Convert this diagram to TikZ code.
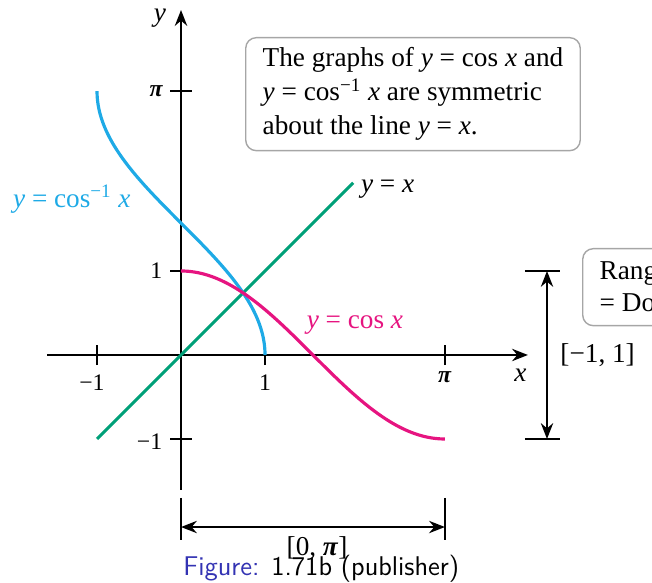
\documentclass[tikz,border=0pt]{standalone}
\usepackage{fontspec}
\setmainfont{Liberation Serif}
\usetikzlibrary{arrows.meta}
\definecolor{invcos}{RGB}{30,170,230}
\definecolor{cospink}{RGB}{230,20,128}
\definecolor{idgreen}{RGB}{0,160,120}
\definecolor{capblue}{RGB}{51,51,179}
\newcommand{\mv}[1]{\textit{#1}}
\newcommand{\mpi}{\textbf{\textit{π}}}
\begin{document}
\begin{tikzpicture}[x=1.68cm, y=1.68cm, >={Stealth[length=9pt,width=7pt]},
  axis/.style={line width=1.3pt},
  graph/.style={line width=1.8pt},
  dim/.style={line width=1.1pt},
  note/.style={draw=gray!70, rounded corners=6pt, line width=0.8pt, align=left,
               font=\fontsize{15.5}{19.4}\selectfont, inner xsep=0.34cm},
  ticklab/.style={font=\fontsize{13.5}{15}\selectfont, inner sep=0pt},
  curvelab/.style={font=\fontsize{15.5}{18}\selectfont, anchor=base}]
  \clip (-2.155,-2.714) rectangle (5.607,4.226);

  \coordinate (xleft) at (-1.595,0);
  \coordinate (xright) at (4.13,0);
  \coordinate (ybottom) at (0,-1.607);
  \coordinate (ytop) at (0,4.107);
  \draw[axis,->] (xleft) -- (xright);
  \draw[axis,->] (ybottom) -- (ytop);

  \foreach \t in {-1,1,pi}
    \draw[axis] (\t,-0.12) -- (\t,0.12);
  \foreach \t in {-1,1,pi}
    \draw[axis] (-0.13,\t) -- (0.13,\t);

  \node (xlab) [font=\fontsize{15.5}{18}\selectfont, anchor=base] at (4.04,-0.32) {\mv{x}};
  \node (ylab) [font=\fontsize{15.5}{18}\selectfont] at (-0.25,4.01) {\mv{y}};
  \node (xm1) [ticklab, anchor=base] at (-1.06,-0.42) {−1};
  \node (xp1) [ticklab, anchor=base] at (1,-0.42) {1};
  \node (xpi) [ticklab, anchor=base] at (pi,-0.33) {\mpi};
  \node (ypi) [ticklab, anchor=east] at (-0.21,pi) {\mpi};
  \node (yp1) [ticklab, anchor=east] at (-0.22,1) {1};
  \node (ym1) [ticklab, anchor=east] at (-0.22,-1.03) {−1};

  \draw[graph, idgreen] (-1,-1) -- (2.05,2.05);
  \draw[graph, invcos, domain=0:pi, samples=120, smooth] plot ({cos(\x r)}, {\x});
  \draw[graph, cospink, domain=0:pi, samples=120, smooth] plot (\x, {cos(\x r)});

  \node (invlab) [curvelab, invcos] at (-1.30,1.76) {\mv{y} = cos\textsuperscript{−1} \mv{x}};
  \node (idlab) [curvelab] at (2.46,1.93) {\mv{y} = \mv{x}};
  \node (coslab) [curvelab, cospink] at (2.07,0.32) {\mv{y} = cos \mv{x}};

  \node (symnote) [note, anchor=north west, minimum height=2.26cm] at (0.762,3.786)
        {The graphs of \mv{y} = cos \mv{x} and\\
         \mv{y} = cos\textsuperscript{−1} \mv{x} are symmetric\\
         about the line \mv{y} = \mv{x}.};
  \node (rangenote) [note, anchor=north west, minimum height=1.54cm, font=\fontsize{15.5}{18.2}\selectfont] at (4.774,1.274)
        {Range\\= Domain};

  \coordinate (rtop1) at (4.095,1);
  \coordinate (rtop2) at (4.512,1);
  \coordinate (rbot1) at (4.095,-1);
  \coordinate (rbot2) at (4.512,-1);
  \coordinate (rarrowt) at (4.357,1);
  \coordinate (rarrowb) at (4.357,-1);
  \draw[dim] (rtop1) -- (rtop2);
  \draw[dim] (rbot1) -- (rbot2);
  \draw[dim,<->] (rarrowt) -- (rarrowb);
  \node (rangelab) [font=\fontsize{15.5}{18}\selectfont] at (4.96,0) {[−1, 1]};

  \coordinate (dleft1) at (0,-1.702);
  \coordinate (dleft2) at (0,-2.202);
  \coordinate (dright1) at (pi,-1.702);
  \coordinate (dright2) at (pi,-2.202);
  \coordinate (darrowl) at (0,-2.048);
  \coordinate (darrowr) at (pi,-2.048);
  \draw[dim] (dleft1) -- (dleft2);
  \draw[dim] (dright1) -- (dright2);
  \draw[dim,<->] (darrowl) -- (darrowr);
  \node (domainlab) [font=\fontsize{15.5}{18}\selectfont] at (1.62,-2.30) {[0, \mpi]};

  \node (caption) [font=\sffamily\fontsize{15.4}{17}\selectfont, anchor=base] at (1.67,-2.62)
        {\textcolor{capblue}{Figure:} 1.71b (publisher)};
\end{tikzpicture}
\end{document}
